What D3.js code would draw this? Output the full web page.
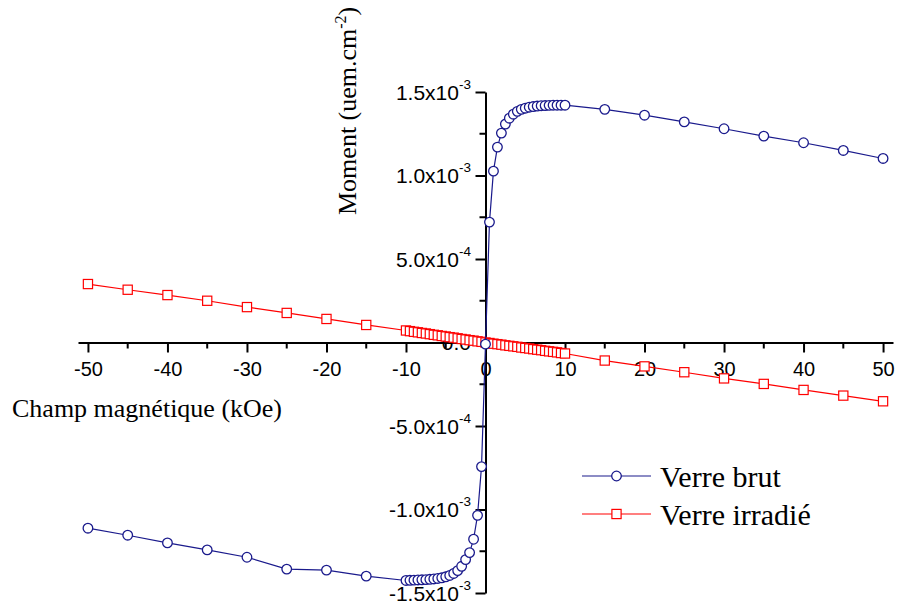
<!DOCTYPE html>
<html>
<head>
<meta charset="utf-8">
<script src="https://cdn.jsdelivr.net/npm/d3@7"></script>
<style>
  body { margin: 0; background: #fff; }
  svg { display: block; }
</style>
</head>
<body>
<svg id="chart" width="897" height="604"></svg>
<script>
// field (kOe)
const fieldH = [-50, -45, -40, -35, -30, -25, -20, -15,
    -10, -9.5, -9, -8.5, -8, -7.5, -7, -6.5, -6, -5.5, -5, -4.5, -4, -3.5, -3, -2.5, -2, -1.5, -1, -0.5,
    0, 0.5, 1, 1.5, 2, 2.5, 3, 3.5, 4, 4.5, 5, 5.5, 6, 6.5, 7, 7.5, 8, 8.5, 9, 9.5, 10,
    15, 20, 25, 30, 35, 40, 45, 50];

// moment, in units of 1e-3 uem.cm-2
const brutM = [-1.112, -1.154, -1.200, -1.242, -1.286, -1.357, -1.363, -1.399,
    -1.425, -1.424, -1.423, -1.422, -1.421, -1.420, -1.418, -1.416, -1.413, -1.409, -1.403, -1.395, -1.383, -1.366, -1.340, -1.300, -1.258, -1.178, -1.035, -0.743,
    -0.010, 0.721, 1.026, 1.170, 1.254, 1.308, 1.343, 1.367, 1.384, 1.396, 1.403, 1.409, 1.413, 1.416, 1.418, 1.419, 1.420, 1.421, 1.421, 1.421, 1.421,
    1.396, 1.361, 1.321, 1.280, 1.236, 1.196, 1.150, 1.102];

const irradM = [0.350, 0.316, 0.284, 0.250, 0.212, 0.177, 0.141, 0.105,
    0.072, 0.068, 0.064, 0.061, 0.057, 0.054, 0.050, 0.046, 0.043, 0.039, 0.036, 0.032, 0.029, 0.025, 0.021, 0.018, 0.014, 0.011, 0.007, 0.004,
    0.000, -0.003, -0.007, -0.010, -0.013, -0.017, -0.020, -0.023, -0.026, -0.030, -0.033, -0.036, -0.040, -0.043, -0.046, -0.050, -0.053, -0.056, -0.059, -0.063, -0.066,
    -0.108, -0.143, -0.178, -0.215, -0.248, -0.284, -0.318, -0.352];

const xMajor = [-50, -40, -30, -20, -10, 0, 10, 20, 30, 40, 50];
const xMinor = [-45, -35, -25, -15, -5, 5, 15, 25, 35, 45];
const yMajor = [-1.5, -1.0, -0.5, 0, 0.5, 1.0, 1.5];
const yMinor = [-1.25, -0.75, -0.25, 0.25, 0.75, 1.25];
const yLabels = [
    {m: "-1.5x10", e: "-3"}, {m: "-1.0x10", e: "-3"}, {m: "-5.0x10", e: "-4"},
    {m: "0.0", e: ""},
    {m: "5.0x10", e: "-4"}, {m: "1.0x10", e: "-3"}, {m: "1.5x10", e: "-3"}
];

const series = [
    {name: "Verre brut", values: brutM, color: "#1a1a8c", shape: "circle"},
    {name: "Verre irradié", values: irradM, color: "#ff0000", shape: "square"}
];

const sansFont = "'Liberation Sans', Arial, sans-serif";
const serifFont = "'Liberation Serif', 'Times New Roman', serif";

const svg = d3.select("#chart");

const x = d3.scaleLinear().domain([-51.25, 51.25]).range([78, 893]);
const y = d3.scaleLinear().domain([-1.5, 1.5]).range([593, 92]);

const labelGroup = svg.append("g");
const axisGroup = svg.append("g");
const dataGroup = svg.append("g");
const legendGroup = svg.append("g");

// y tick labels (drawn first, the axis and data overlap them)
yMajor.forEach((v, i) => {
    const t = labelGroup.append("text")
        .attr("x", 471)
        .attr("y", y(v) + 7.5)
        .attr("text-anchor", "end")
        .attr("font-family", sansFont)
        .attr("font-size", 21)
        .attr("fill", "#000");
    t.append("tspan").text(yLabels[i].m);
    if (yLabels[i].e) {
        t.append("tspan")
            .attr("dy", -11)
            .attr("font-size", 13.5)
            .text(yLabels[i].e);
    }
});

// x axis
const xAxis = d3.axisBottom(x).tickValues(xMajor).tickSize(10).tickSizeOuter(0)
    .tickFormat(d => d);
const gx = axisGroup.append("g")
    .attr("transform", `translate(0,${y(0)})`)
    .call(xAxis);
gx.select(".domain").attr("stroke", "#000").attr("stroke-width", 2);
gx.selectAll(".tick line").attr("stroke", "#000").attr("stroke-width", 2);
gx.selectAll(".tick text")
    .attr("font-family", sansFont)
    .attr("font-size", 20)
    .attr("fill", "#000")
    .attr("dy", "1.05em")
    .attr("y", 12);
gx.selectAll(".minor")
    .data(xMinor)
    .join("line")
    .attr("x1", d => x(d)).attr("x2", d => x(d))
    .attr("y1", 0).attr("y2", 6)
    .attr("stroke", "#000").attr("stroke-width", 2);

// y axis
const yAxis = d3.axisLeft(y).tickValues(yMajor).tickSize(10).tickSizeOuter(0).tickFormat("");
const gy = axisGroup.append("g")
    .attr("transform", `translate(${x(0)},0)`)
    .call(yAxis);
gy.select(".domain").attr("stroke", "#000").attr("stroke-width", 2);
gy.selectAll(".tick line").attr("stroke", "#000").attr("stroke-width", 2);
gy.selectAll(".minor")
    .data(yMinor)
    .join("line")
    .attr("x1", -6).attr("x2", 0)
    .attr("y1", d => y(d)).attr("y2", d => y(d))
    .attr("stroke", "#000").attr("stroke-width", 2);

// axis titles
svg.append("text")
    .attr("x", 12)
    .attr("y", 417)
    .attr("font-family", serifFont)
    .attr("font-size", 26)
    .attr("fill", "#000")
    .text("Champ magnétique (kOe)");

const yTitle = svg.append("text")
    .attr("transform", "translate(356,215) rotate(-90)")
    .attr("font-family", serifFont)
    .attr("font-size", 26)
    .attr("fill", "#000");
yTitle.append("tspan").text("Moment (uem.cm");
yTitle.append("tspan").attr("dy", -10).attr("font-size", 16).text("-2");
yTitle.append("tspan").attr("dy", 10).text(")");

// data
const line = d3.line()
    .x((d, i) => x(fieldH[i]))
    .y(d => y(d));

function drawMarker(sel, shape, color) {
    if (shape === "circle") {
        sel.append("circle")
            .attr("r", 4.8)
            .attr("fill", "#fff")
            .attr("stroke", color)
            .attr("stroke-width", 1.3);
    } else {
        sel.append("rect")
            .attr("x", -4.6).attr("y", -4.6)
            .attr("width", 9.2).attr("height", 9.2)
            .attr("fill", "#fff")
            .attr("stroke", color)
            .attr("stroke-width", 1.2);
    }
}

[series[1], series[0]].forEach(s => {
    const g = dataGroup.append("g");
    g.append("path")
        .datum(s.values)
        .attr("d", line)
        .attr("fill", "none")
        .attr("stroke", s.color)
        .attr("stroke-width", 1.2);
    g.selectAll("g.pt")
        .data(s.values)
        .join("g")
        .attr("class", "pt")
        .attr("transform", (d, i) => `translate(${x(fieldH[i])},${y(d)})`)
        .each(function () { drawMarker(d3.select(this), s.shape, s.color); });
});

// legend
series.forEach((s, i) => {
    const ly = 476 + i * 38;
    const g = legendGroup.append("g");
    g.append("line")
        .attr("x1", 582).attr("x2", 651)
        .attr("y1", ly).attr("y2", ly)
        .attr("stroke", s.color).attr("stroke-width", 1.2);
    const m = g.append("g").attr("transform", `translate(616.5,${ly})`);
    drawMarker(m, s.shape, s.color);
    g.append("text")
        .attr("x", 660)
        .attr("y", ly + 11)
        .attr("font-family", serifFont)
        .attr("font-size", 30)
        .attr("fill", "#000")
        .text(s.name);
});
</script>
</body>
</html>
